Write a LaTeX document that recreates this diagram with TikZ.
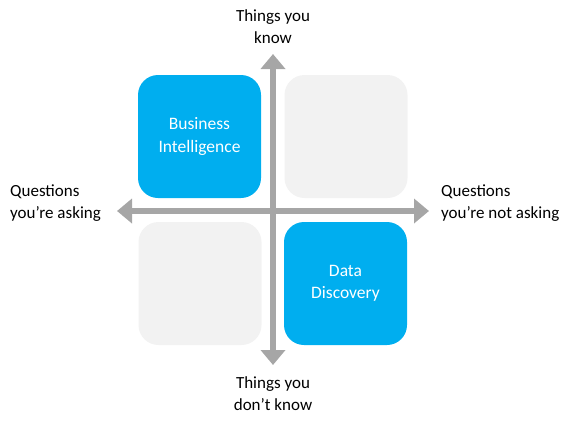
\documentclass[tikz,border=0pt]{standalone}
\usepackage{fontspec}
\setmainfont{Carlito}
\definecolor{blau}{RGB}{0,174,239}
\definecolor{grau}{RGB}{242,242,242}
\definecolor{achse}{RGB}{166,166,166}
\usetikzlibrary{arrows.meta}

\begin{document}
\begin{tikzpicture}[x=1pt,y=-1pt,line cap=butt]
	\tikzstyle{feld}=[rounded corners=20pt,minimum width=123pt,minimum height=123pt,inner sep=0pt,align=center,font=\fontsize{17.5}{22.5}\selectfont];
	\tikzstyle{voll}=[feld,fill=blau,text=white];
	\tikzstyle{leer}=[feld,fill=grau];
	\tikzstyle{achsen}=[draw=achse,line width=6pt,{Triangle[width=24pt,length=15pt]}-{Triangle[width=24pt,length=15pt]}];
	\tikzstyle{schrift}=[inner sep=0pt,font=\fontsize{17}{22}\selectfont];
%<--------------------------------------------------------------------------->%

	\useasboundingbox (0,0) rectangle (577,424);
	\coordinate (N) at (273,54);
	\coordinate (S) at (273,365);
	\coordinate (W) at (117,211);
	\coordinate (O) at (429,211);
	%% Fields
	\node[voll] (BI) at (199.5,136.5) {Business\\Intelligence};
	\node[leer] (NO) at (346,136.5)   {};
	\node[leer] (SW) at (200,283.5)   {};
	\node[voll] (DD) at (345.5,283.5) {Data\\Discovery};
	%% Axes
	\draw[achsen] (W) -- (O);
	\draw[achsen] (N) -- (S);
	%% Labels
	\node[schrift,align=center]          (oben)   at (273,27)  {Things you\\know};
	\node[schrift,align=center]          (unten)  at (273,394) {Things you\\don’t know};
	\node[schrift,align=left,anchor=west] (links)  at (10,203)  {Questions\\you’re asking};
	\node[schrift,align=left,anchor=west] (rechts) at (441,203) {Questions\\you’re not asking};
\end{tikzpicture}
\end{document}
